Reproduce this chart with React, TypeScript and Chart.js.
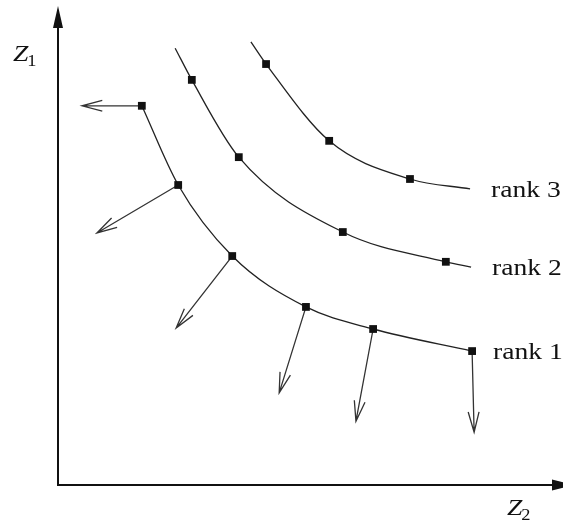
import React, { useEffect, useRef } from "react";
import { Chart, registerables } from "chart.js";

Chart.register(...registerables);

// ---- data (chart units: Z2 on x, Z1 on y, both 0..100) ----
const rankLabels = ["rank 1", "rank 2", "rank 3"];

const rank1X = [16.6, 23.8, 34.5, 49.1, 62.4, 82.0];
const rank1Y = [79.0, 62.5, 47.7, 37.1, 32.5, 27.9];
const rank1Marked = [true, true, true, true, true, true];

const rank2X = [23.2, 26.5, 35.8, 56.4, 76.8, 81.8];
const rank2Y = [91.0, 84.4, 68.3, 52.7, 46.5, 45.4];
const rank2Marked = [false, true, true, true, true, false];

const rank3X = [38.2, 41.2, 53.7, 69.7, 81.6];
const rank3Y = [92.3, 87.7, 71.7, 63.75, 61.7];
const rank3Marked = [false, true, true, true, false];

// arrow end points, one per rank-1 point
const arrowEndX = [4.75, 7.7, 23.4, 43.8, 59.0, 82.4];
const arrowEndY = [79.0, 52.5, 32.7, 19.2, 13.3, 11.0];

const axisNames = ["Z", "Z"];
const axisSubs = ["1", "2"];

const toPoints = (xs: number[], ys: number[]) => xs.map((x, i) => ({ x, y: ys[i] }));

const SERIF = '"Liberation Serif", "Times New Roman", serif';
const TEXT_STRETCH = 1.15;

function stretchedText(ctx: CanvasRenderingContext2D, text: string, x: number, y: number) {
  ctx.save();
  ctx.translate(x, y);
  ctx.scale(TEXT_STRETCH, 1);
  ctx.fillText(text, 0, 0);
  ctx.restore();
  return ctx.measureText(text).width * TEXT_STRETCH;
}

const drawingPlugin = {
  id: "drawing",
  beforeDatasetsDraw(chart: any) {
    const ctx: CanvasRenderingContext2D = chart.ctx;
    const xs = chart.scales.x;
    const ys = chart.scales.y;
    const area = chart.chartArea;
    const ox = xs.getPixelForValue(0);
    const oy = ys.getPixelForValue(0);

    ctx.save();
    // axes
    ctx.strokeStyle = "#111";
    ctx.fillStyle = "#111";
    ctx.lineWidth = 2;
    ctx.beginPath();
    ctx.moveTo(ox, oy + 1);
    ctx.lineTo(ox, area.top + 18);
    ctx.moveTo(ox - 1, oy);
    ctx.lineTo(area.right - 5, oy);
    ctx.stroke();
    // y arrow head
    ctx.beginPath();
    ctx.moveTo(ox, area.top + 1);
    ctx.lineTo(ox - 5, area.top + 23);
    ctx.lineTo(ox + 5, area.top + 23);
    ctx.closePath();
    ctx.fill();
    // x arrow head
    const tipX = area.right + 11;
    ctx.beginPath();
    ctx.moveTo(tipX, oy);
    ctx.lineTo(tipX - 22, oy - 5.5);
    ctx.lineTo(tipX - 22, oy + 5.5);
    ctx.closePath();
    ctx.fill();

    // arrows from rank-1 points
    ctx.strokeStyle = "#333";
    ctx.lineWidth = 1.3;
    rank1X.forEach((x0, i) => {
      const sx = xs.getPixelForValue(x0);
      const sy = ys.getPixelForValue(rank1Y[i]);
      const ex = xs.getPixelForValue(arrowEndX[i]);
      const ey = ys.getPixelForValue(arrowEndY[i]);
      const ang = Math.atan2(ey - sy, ex - sx);
      const L = 21;
      const h = (15 * Math.PI) / 180;
      ctx.beginPath();
      ctx.moveTo(sx, sy);
      ctx.lineTo(ex, ey);
      ctx.moveTo(ex - L * Math.cos(ang - h), ey - L * Math.sin(ang - h));
      ctx.lineTo(ex, ey);
      ctx.lineTo(ex - L * Math.cos(ang + h), ey - L * Math.sin(ang + h));
      ctx.stroke();
    });
    ctx.restore();
  },
  afterDraw(chart: any) {
    const ctx: CanvasRenderingContext2D = chart.ctx;
    const xs = chart.scales.x;
    const ys = chart.scales.y;
    const area = chart.chartArea;
    const ox = xs.getPixelForValue(0);
    const oy = ys.getPixelForValue(0);
    ctx.save();
    ctx.fillStyle = "#111";
    ctx.textBaseline = "alphabetic";
    ctx.textAlign = "left";

    // rank labels, at the end of each curve
    const ends = [
      { x: rank1X[rank1X.length - 1], y: rank1Y[rank1Y.length - 1] },
      { x: rank2X[rank2X.length - 1], y: rank2Y[rank2Y.length - 1] },
      { x: rank3X[rank3X.length - 1], y: rank3Y[rank3Y.length - 1] },
    ];
    ctx.font = `24px ${SERIF}`;
    rankLabels.forEach((lbl, i) => {
      const px = xs.getPixelForValue(ends[i].x);
      const py = ys.getPixelForValue(ends[i].y);
      stretchedText(ctx, lbl, px + 21, py + 8);
    });

    // axis names
    const positions = [
      { x: ox - 45, y: area.top + 56 },
      { x: area.right - 56, y: oy + 30 },
    ];
    axisNames.forEach((nm, i) => {
      ctx.font = `italic 24px ${SERIF}`;
      const w = stretchedText(ctx, nm, positions[i].x, positions[i].y);
      ctx.font = `16px ${SERIF}`;
      stretchedText(ctx, axisSubs[i], positions[i].x + w - 1, positions[i].y + 5);
    });
    ctx.restore();
  },
};

export default function App() {
  const ref = useRef<HTMLCanvasElement | null>(null);
  useEffect(() => {
    if (!ref.current) return;
    const mk = (pts: { x: number; y: number }[], marked: boolean[], label: string) => ({
      label,
      data: pts,
      showLine: true,
      cubicInterpolationMode: "monotone" as const,
      borderColor: "#222",
      borderWidth: 1.3,
      pointStyle: "rect" as const,
      pointRadius: (c: any) => (marked[c.dataIndex] ? 5.5 : 0),
      pointHoverRadius: (c: any) => (marked[c.dataIndex] ? 5.5 : 0),
      pointBackgroundColor: "#111",
      pointBorderColor: "#111",
      pointBorderWidth: 0,
    });
    const chart = new Chart(ref.current, {
      type: "scatter",
      data: {
        datasets: [
          mk(toPoints(rank1X, rank1Y), rank1Marked, rankLabels[0]),
          mk(toPoints(rank2X, rank2Y), rank2Marked, rankLabels[1]),
          mk(toPoints(rank3X, rank3Y), rank3Marked, rankLabels[2]),
        ],
      },
      options: {
        animation: false,
        responsive: false,
        maintainAspectRatio: false,
        layout: { autoPadding: false, padding: { left: 58, right: 0, top: 5, bottom: 39 } },
        plugins: { legend: { display: false }, tooltip: { enabled: false } },
        events: [],
        scales: {
          x: { type: "linear", min: 0, max: 100, display: false },
          y: { type: "linear", min: 0, max: 100, display: false },
        },
      },
      plugins: [drawingPlugin],
    });
    return () => chart.destroy();
  }, []);
  return (
    <div style={{ position: "fixed", left: 0, top: 0, width: 563, height: 524, background: "#fff" }}>
      <canvas ref={ref} width={563} height={524} style={{ display: "block" }} />
    </div>
  );
}
